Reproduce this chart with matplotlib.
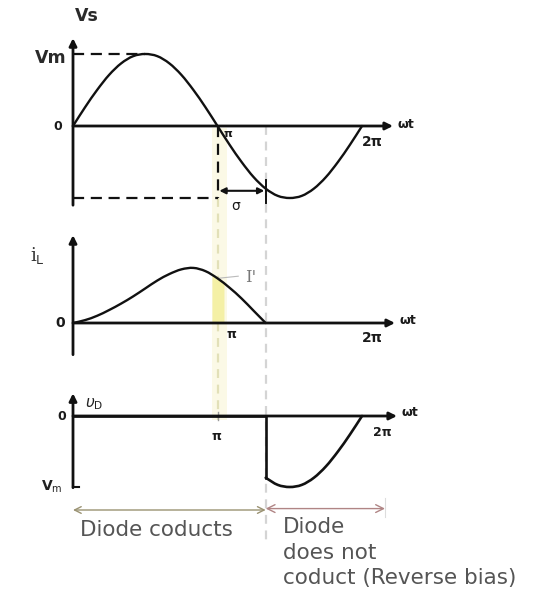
import numpy as np
import matplotlib
matplotlib.use("Agg")
import matplotlib.pyplot as plt
from matplotlib.path import Path
from matplotlib.patches import PathPatch

# ---- waveform data (angle in degrees, amplitudes in units of Vm) ----
wt_deg = list(range(0, 361, 15))
vs_vals = [0.0, 0.26, 0.5, 0.71, 0.87, 0.97, 1.0, 0.97, 0.87, 0.71, 0.5, 0.26, 0.0,
           -0.26, -0.5, -0.71, -0.87, -0.97, -1.0, -0.97, -0.87, -0.71, -0.5, -0.26, 0.0]
il_deg = list(range(0, 241, 15))
il_vals = [0.0, 0.04, 0.1, 0.18, 0.27, 0.37, 0.48, 0.59, 0.68, 0.745, 0.765, 0.72,
           0.62, 0.49, 0.34, 0.17, 0.0]
beta_deg = 240          # extinction angle  (pi + sigma)
pi_deg = 180

W, H = 540, 589
fig = plt.figure(figsize=(W / 100, H / 100), dpi=100)

S, X0 = 46.0, 73.0      # pixels per radian, origin column


def panel(zero_px, unit_px):
    ax = fig.add_axes([0, 0, 1, 1])
    ax.set_xlim(-X0 / S, (W - X0) / S)
    ax.set_ylim((zero_px - H) / unit_px, zero_px / unit_px)
    ax.axis("off")
    ax.patch.set_alpha(0)
    return ax


def label(x, y, s, size=10, ha="center", va="center", color="#1a1a1a", **kw):
    fig.text(x / W, 1 - y / H, s, fontsize=size, ha=ha, va=va, color=color, **kw)


def axis_arrow(ax, p0, p1, lw=2.0):
    ax.annotate("", xy=p1, xytext=p0,
                arrowprops=dict(arrowstyle="-|>", lw=lw, color="#111111",
                                mutation_scale=11, shrinkA=0, shrinkB=0))


def smooth_curve(ax, x, y, **kw):
    """Draw a curve through the samples as Catmull-Rom cubic segments."""
    pts = np.column_stack([x, y]).astype(float)
    ext = np.vstack([2 * pts[0] - pts[1], pts, 2 * pts[-1] - pts[-2]])
    verts, codes = [pts[0]], [Path.MOVETO]
    for i in range(1, len(ext) - 2):
        p0, p1, p2, p3 = ext[i - 1], ext[i], ext[i + 1], ext[i + 2]
        verts += [p1 + (p2 - p0) / 6, p2 - (p3 - p1) / 6, p2]
        codes += [Path.CURVE4] * 3
    ax.add_patch(PathPatch(Path(verts, codes), fill=False, capstyle="round",
                           joinstyle="round", **kw))


wt = np.deg2rad(wt_deg)
vs = np.array(vs_vals)
il_x = np.deg2rad(il_deg)
il = np.array(il_vals)
beta = np.deg2rad(beta_deg)
pi = np.deg2rad(pi_deg)
vs_beta = vs[wt_deg.index(beta_deg)]

ax1 = panel(126, 72)
ax2 = panel(323, 72)
ax3 = panel(416, 71)

# ---- faint guide lines linking the three panels ----
ax1.axvspan(pi - 0.12, pi + 0.2, ymin=(589 - 420) / 589, ymax=(589 - 128) / 589,
            color="#fbf9e6", zorder=0, lw=0)
ax1.plot([pi, pi], [-1.0, (126 - 420) / 72], color="#e2e0b8", lw=1.6,
         dashes=(4, 3), zorder=1)
ax1.plot([beta, beta], [0, (126 - 545) / 72], color="#d4d4d4", lw=1.6,
         dashes=(4, 3), zorder=1)

# ---- source voltage ----
axis_arrow(ax1, (0, -1.1), (0, 1.22))
axis_arrow(ax1, (0, 0), ((393 - X0) / S, 0))
smooth_curve(ax1, wt, vs, color="#111111", lw=1.7, zorder=3)
peak_x = wt[int(np.argmax(vs))]
ax1.plot([0, peak_x], [1, 1], color="#111111", lw=1.6, dashes=(5, 3))
ax1.plot([0, pi], [-1, -1], color="#111111", lw=1.6, dashes=(5, 3))
ax1.plot([pi, pi], [0, -1], color="#111111", lw=1.6, dashes=(5, 3))
ax1.plot([beta, beta], [vs_beta + 0.12, vs_beta - 0.2], color="#111111", lw=1.4)
ax1.annotate("", xy=(beta - 0.03, -0.9), xytext=(pi + 0.04, -0.9),
             arrowprops=dict(arrowstyle="<|-|>", lw=1.5, color="#111111",
                             mutation_scale=9, shrinkA=0, shrinkB=0))

label(87, 16, "Vs", size=12.5, weight="bold", color="#2a2a2a")
label(67, 58, "Vm", size=12.5, ha="right", weight="bold", color="#2a2a2a")
label(58, 126, "0", size=9, weight="bold")
label(228, 134, "π", size=8, weight="bold")
label(397, 124, "ωt", size=9, ha="left", weight="bold")
label(372, 142, "2π", size=10, weight="bold")
label(236, 206, "σ", size=10)

# ---- load current ----
axis_arrow(ax2, (0, -0.44), (0, 1.22))
axis_arrow(ax2, (0, 0), ((395 - X0) / S, 0))
xb = np.linspace(pi - 0.12, pi + 0.14, 10)
ax2.fill_between(xb, 0, np.interp(xb, il_x, il), color="#f4f0a6", lw=0, zorder=1)
smooth_curve(ax2, il_x, il, color="#111111", lw=1.7, zorder=3)
i_pi = il[il_deg.index(pi_deg)]
ax2.plot([pi, pi + 0.45], [i_pi, i_pi + 0.03], color="#bbbbbb", lw=0.8)
label(245, 277, "I'", size=12, ha="left", family="DejaVu Serif", color="#777777")
label(37, 256, r"i$_{\mathrm{L}}$", size=13, family="DejaVu Serif", color="#333333")
label(60, 323, "0", size=10, weight="bold")
label(231, 334, "π", size=9, weight="bold")
label(400, 321, "ωt", size=9, ha="left", weight="bold")
label(372, 338, "2π", size=10, weight="bold")

# ---- diode voltage ----
axis_arrow(ax3, (0, -1.01), (0, 0.32))
axis_arrow(ax3, (0, 0), ((397 - X0) / S, 0))
ax3.plot([0, 0.12], [-1, -1], color="#111111", lw=1.5)
off = wt >= beta
ax3.plot([0, beta, beta], [0, 0, vs_beta], color="#111111", lw=1.9, zorder=3,
         solid_joinstyle="miter")
smooth_curve(ax3, wt[off], vs[off], color="#111111", lw=1.9, zorder=3)
ax3.plot([pi, pi], [0.05, -0.05], color="#999999", lw=1.0)
label(94, 404, r"$\upsilon_{\mathrm{D}}$", size=11, color="#222222")
label(62, 416, "0", size=9, weight="bold")
label(52, 487, r"V$_{\mathrm{m}}$", size=10, weight="bold", color="#222222")
label(216, 437, "π", size=9, weight="bold")
label(402, 413, "ωt", size=9, ha="left", weight="bold")
label(382, 433, "2π", size=9, weight="bold")

# ---- conduction intervals ----
y_arr = (416 - 510) / 71
ax3.annotate("", xy=(beta, y_arr), xytext=(0, y_arr),
             arrowprops=dict(arrowstyle="<->", lw=1.0, color="#9a9272",
                             mutation_scale=12, shrinkA=0, shrinkB=0))
end_x = (385 - X0) / S
ax3.annotate("", xy=(end_x, y_arr + 0.02), xytext=(beta, y_arr + 0.02),
             arrowprops=dict(arrowstyle="<->", lw=1.0, color="#b08585",
                             mutation_scale=14, shrinkA=0, shrinkB=0))
ax3.plot([end_x, end_x], [y_arr + 0.17, y_arr - 0.1], color="#dddddd", lw=0.8)

txt = dict(size=15.5, ha="left", color="#555555", family="DejaVu Sans")
label(80, 530, "Diode coducts", **txt)
label(283, 527, "Diode", **txt)
label(283, 553, "does not", **txt)
label(283, 578, "coduct (Reverse bias)", **txt)

fig.savefig("out.png", dpi=100, facecolor="white")
